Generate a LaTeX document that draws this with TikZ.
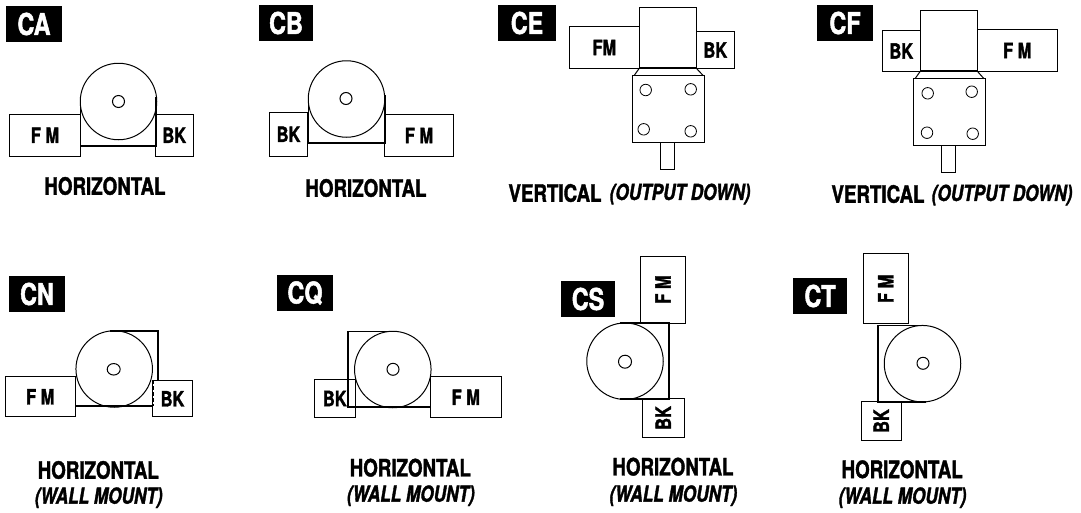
\documentclass[tikz,border=0pt]{standalone}
\usepackage{fontspec}
\setmainfont{TeX Gyre Heros}[FakeStretch=0.78, BoldFeatures={FakeBold=1.6}, BoldItalicFeatures={FakeBold=1.6}]
\usetikzlibrary{positioning, shapes.geometric}

\tikzset{
    unit/.style={draw, line width=1pt, inner sep=0pt, outer sep=0pt, font=\fontsize{21}{21}\selectfont\bfseries},
    tag/.style={fill=black, text=white, inner sep=0pt, minimum width=56pt, minimum height=36pt, font=\fontsize{30}{30}\selectfont\bfseries},
    wheel/.style={draw, circle, line width=1pt, inner sep=0pt, outer sep=0pt, minimum size=76.5pt},
    hub/.style={draw, circle, line width=1pt, inner sep=0pt, minimum size=12pt},
    hole/.style={draw, circle, line width=0.8pt, inner sep=0pt, minimum size=11.5pt},
    housing/.style={line width=1.8pt},
    hidden/.style={line width=1pt, dash pattern=on 4pt off 2pt},
    modename/.style={inner sep=0pt, font=\fontsize{24}{24}\selectfont\bfseries},
    submode/.style={inner sep=0pt, font=\fontsize{22}{22}\selectfont\bfseries\itshape}
}

\begin{document}
\begin{tikzpicture}[x=1pt, y=-1pt]
    \useasboundingbox (0,0) rectangle (1081,512);

    % top row, horizontal
    \node [tag] (CA) at (34,24) {CA};
    \draw [housing] (80.5,97) -- (80.5,146) -- (156,146) -- (156,97);
    \node [unit, minimum width=71pt, minimum height=41.5pt] (CAfm) at (45,135.25) {F M};
    \node [unit, minimum width=37.5pt, minimum height=41.5pt] (CAbk) at (174.25,135.25) {BK};
    \node [wheel] (CAwheel) at (118.5,101.5) {};
    \node [hub] (CAhub) at (118.5,101.5) {};
    \node [modename] (CAname) at (105,186) {HORIZONTAL};

    \node [tag, minimum width=54pt] (CB) at (286,23) {CB};
    \draw [housing] (308.5,95) -- (308.5,143) -- (385,143) -- (385,95);
    \node [unit, minimum width=38pt, minimum height=43.5pt] (CBbk) at (288.5,134.25) {BK};
    \node [unit, minimum width=69pt, minimum height=42pt] (CBfm) at (419,135.5) {F M};
    \node [wheel] (CBwheel) at (346.5,99) {};
    \node [hub] (CBhub) at (346,98.5) {};
    \node [modename] (CBname) at (366,188) {HORIZONTAL};

    % top row, vertical
    \node [tag, minimum width=58pt] (CE) at (527,23) {CE};
    \node [unit, minimum width=70pt, minimum height=41.5pt] (CEfm) at (604.3,47.5) {FM};
    \node [unit, minimum width=57pt, minimum height=60.5pt] (CEbody) at (667.8,38) {};
    \node [unit, minimum width=38pt, minimum height=36.5pt] (CEbk) at (715.3,50) {BK};
    \node [unit, minimum width=71.5pt, minimum height=66.5pt] (CEplate) at (668.5,109) {};
    \node [unit, minimum width=13.5pt, minimum height=27pt] (CEshaft) at (667.5,155.8) {};
    \draw [housing] (CEbody.south west) -- (CEbody.south east);
    \draw [line width=1pt] (CEbody.south west) -- (634,75.7);
    \draw [line width=1pt] (CEbody.south east) -- (703.3,75.7);
    \node [hole] (CEa) at (645.7,90) {};
    \node [hole] (CEb) at (690.7,89.3) {};
    \node [hole] (CEc) at (643.7,129.3) {};
    \node [hole] (CEd) at (690.7,131.3) {};
    \node [modename] (CEname) at (555,193) {VERTICAL};
    \node [submode] (CEmode) at (680,194) {(OUTPUT DOWN)};

    \node [tag] (CF) at (845,23) {CF};
    \node [unit, minimum width=38pt, minimum height=40.5pt] (CFbk) at (901.3,51) {BK};
    \node [unit, minimum width=57pt, minimum height=60.5pt] (CFbody) at (948.8,41) {};
    \node [unit, minimum width=80pt, minimum height=41.5pt] (CFfm) at (1017.3,50.5) {F M};
    \node [unit, minimum width=71.5pt, minimum height=66.5pt] (CFplate) at (949.5,112) {};
    \node [unit, minimum width=13.5pt, minimum height=27pt] (CFshaft) at (948.5,158.8) {};
    \draw [housing] (CFbody.south west) -- (CFbody.south east);
    \draw [line width=1pt] (CFbody.south west) -- (915,78.7);
    \draw [line width=1pt] (CFbody.south east) -- (984,78.7);
    \node [hole] (CFa) at (927.7,93.3) {};
    \node [hole] (CFb) at (971.7,91.7) {};
    \node [hole] (CFc) at (927,132.7) {};
    \node [hole] (CFd) at (972.7,133.7) {};
    \node [modename] (CFname) at (878,194) {VERTICAL};
    \node [submode] (CFmode) at (1002,195) {(OUTPUT DOWN)};

    % bottom row, wall mount
    \node [tag] (CN) at (37,294) {CN};
    \draw [housing] (110,331) -- (158.3,331) -- (158.3,381);
    \draw [housing] (75.5,406.3) -- (153,406.3);
    \node [unit, minimum width=70pt, minimum height=40.3pt] (CNfm) at (40.3,396.8) {F M};
    \node [unit, minimum width=39.6pt, minimum height=36.3pt] (CNbk) at (172.5,398.8) {BK};
    \node [wheel] (CNwheel) at (114.2,369) {};
    \node [hub, ellipse, minimum height=11.5pt, minimum width=13pt] (CNhub) at (113.7,369.3) {};
    \draw [hidden] (153.3,380) -- (153.3,406);
    \node [modename] (CNname) at (98.3,470) {HORIZONTAL};
    \node [submode] (CNmode) at (98.7,497.7) {(WALL MOUNT)};

    \node [tag] (CQ) at (305,293) {CQ};
    \node [unit, minimum width=41pt, minimum height=37.6pt] (CQbk) at (334.8,398.5) {BK};
    \node [unit, minimum width=71pt, minimum height=41.3pt] (CQfm) at (465.8,397.3) {F M};
    \draw [housing] (396,331.5) -- (348,331.5) -- (348,407.3) -- (430,407.3);
    \node [wheel] (CQwheel) at (392.8,369.5) {};
    \node [hub] (CQhub) at (393,369.3) {};
    \draw [hidden] (355.3,380) -- (355.3,407);
    \node [modename] (CQname) at (410.3,467.7) {HORIZONTAL};
    \node [submode] (CQmode) at (410.8,495.7) {(WALL MOUNT)};

    \node [tag, minimum width=54pt] (CS) at (588,299) {CS};
    \draw [housing] (620,323) -- (668.7,323) -- (668.7,398.7) -- (620,398.7);
    \node [unit, rotate=90, minimum width=67pt, minimum height=44.6pt] (CSfm) at (663,289.5) {F M};
    \node [unit, rotate=90, minimum width=38.3pt, minimum height=42pt] (CSbk) at (663.3,417.9) {BK};
    \node [wheel] (CSwheel) at (625,361.2) {};
    \node [hub, minimum size=13pt] (CShub) at (625,361.7) {};
    \node [modename] (CSname) at (673,466.7) {HORIZONTAL};
    \node [submode] (CSmode) at (673.3,495.7) {(WALL MOUNT)};

    \node [tag, minimum width=54pt] (CT) at (820,296) {CT};
    \draw [housing] (926,325.5) -- (878,325.5) -- (878,402) -- (926,402);
    \node [unit, rotate=90, minimum width=70.3pt, minimum height=45pt] (CTfm) at (885.8,288.8) {F M};
    \node [unit, rotate=90, minimum width=38.6pt, minimum height=40pt] (CTbk) at (881.3,421) {BK};
    \node [wheel] (CTwheel) at (922.5,363.7) {};
    \node [hub] (CThub) at (923,363.3) {};
    \node [modename] (CTname) at (902.2,469.3) {HORIZONTAL};
    \node [submode] (CTmode) at (902.5,497.7) {(WALL MOUNT)};
\end{tikzpicture}
\end{document}
